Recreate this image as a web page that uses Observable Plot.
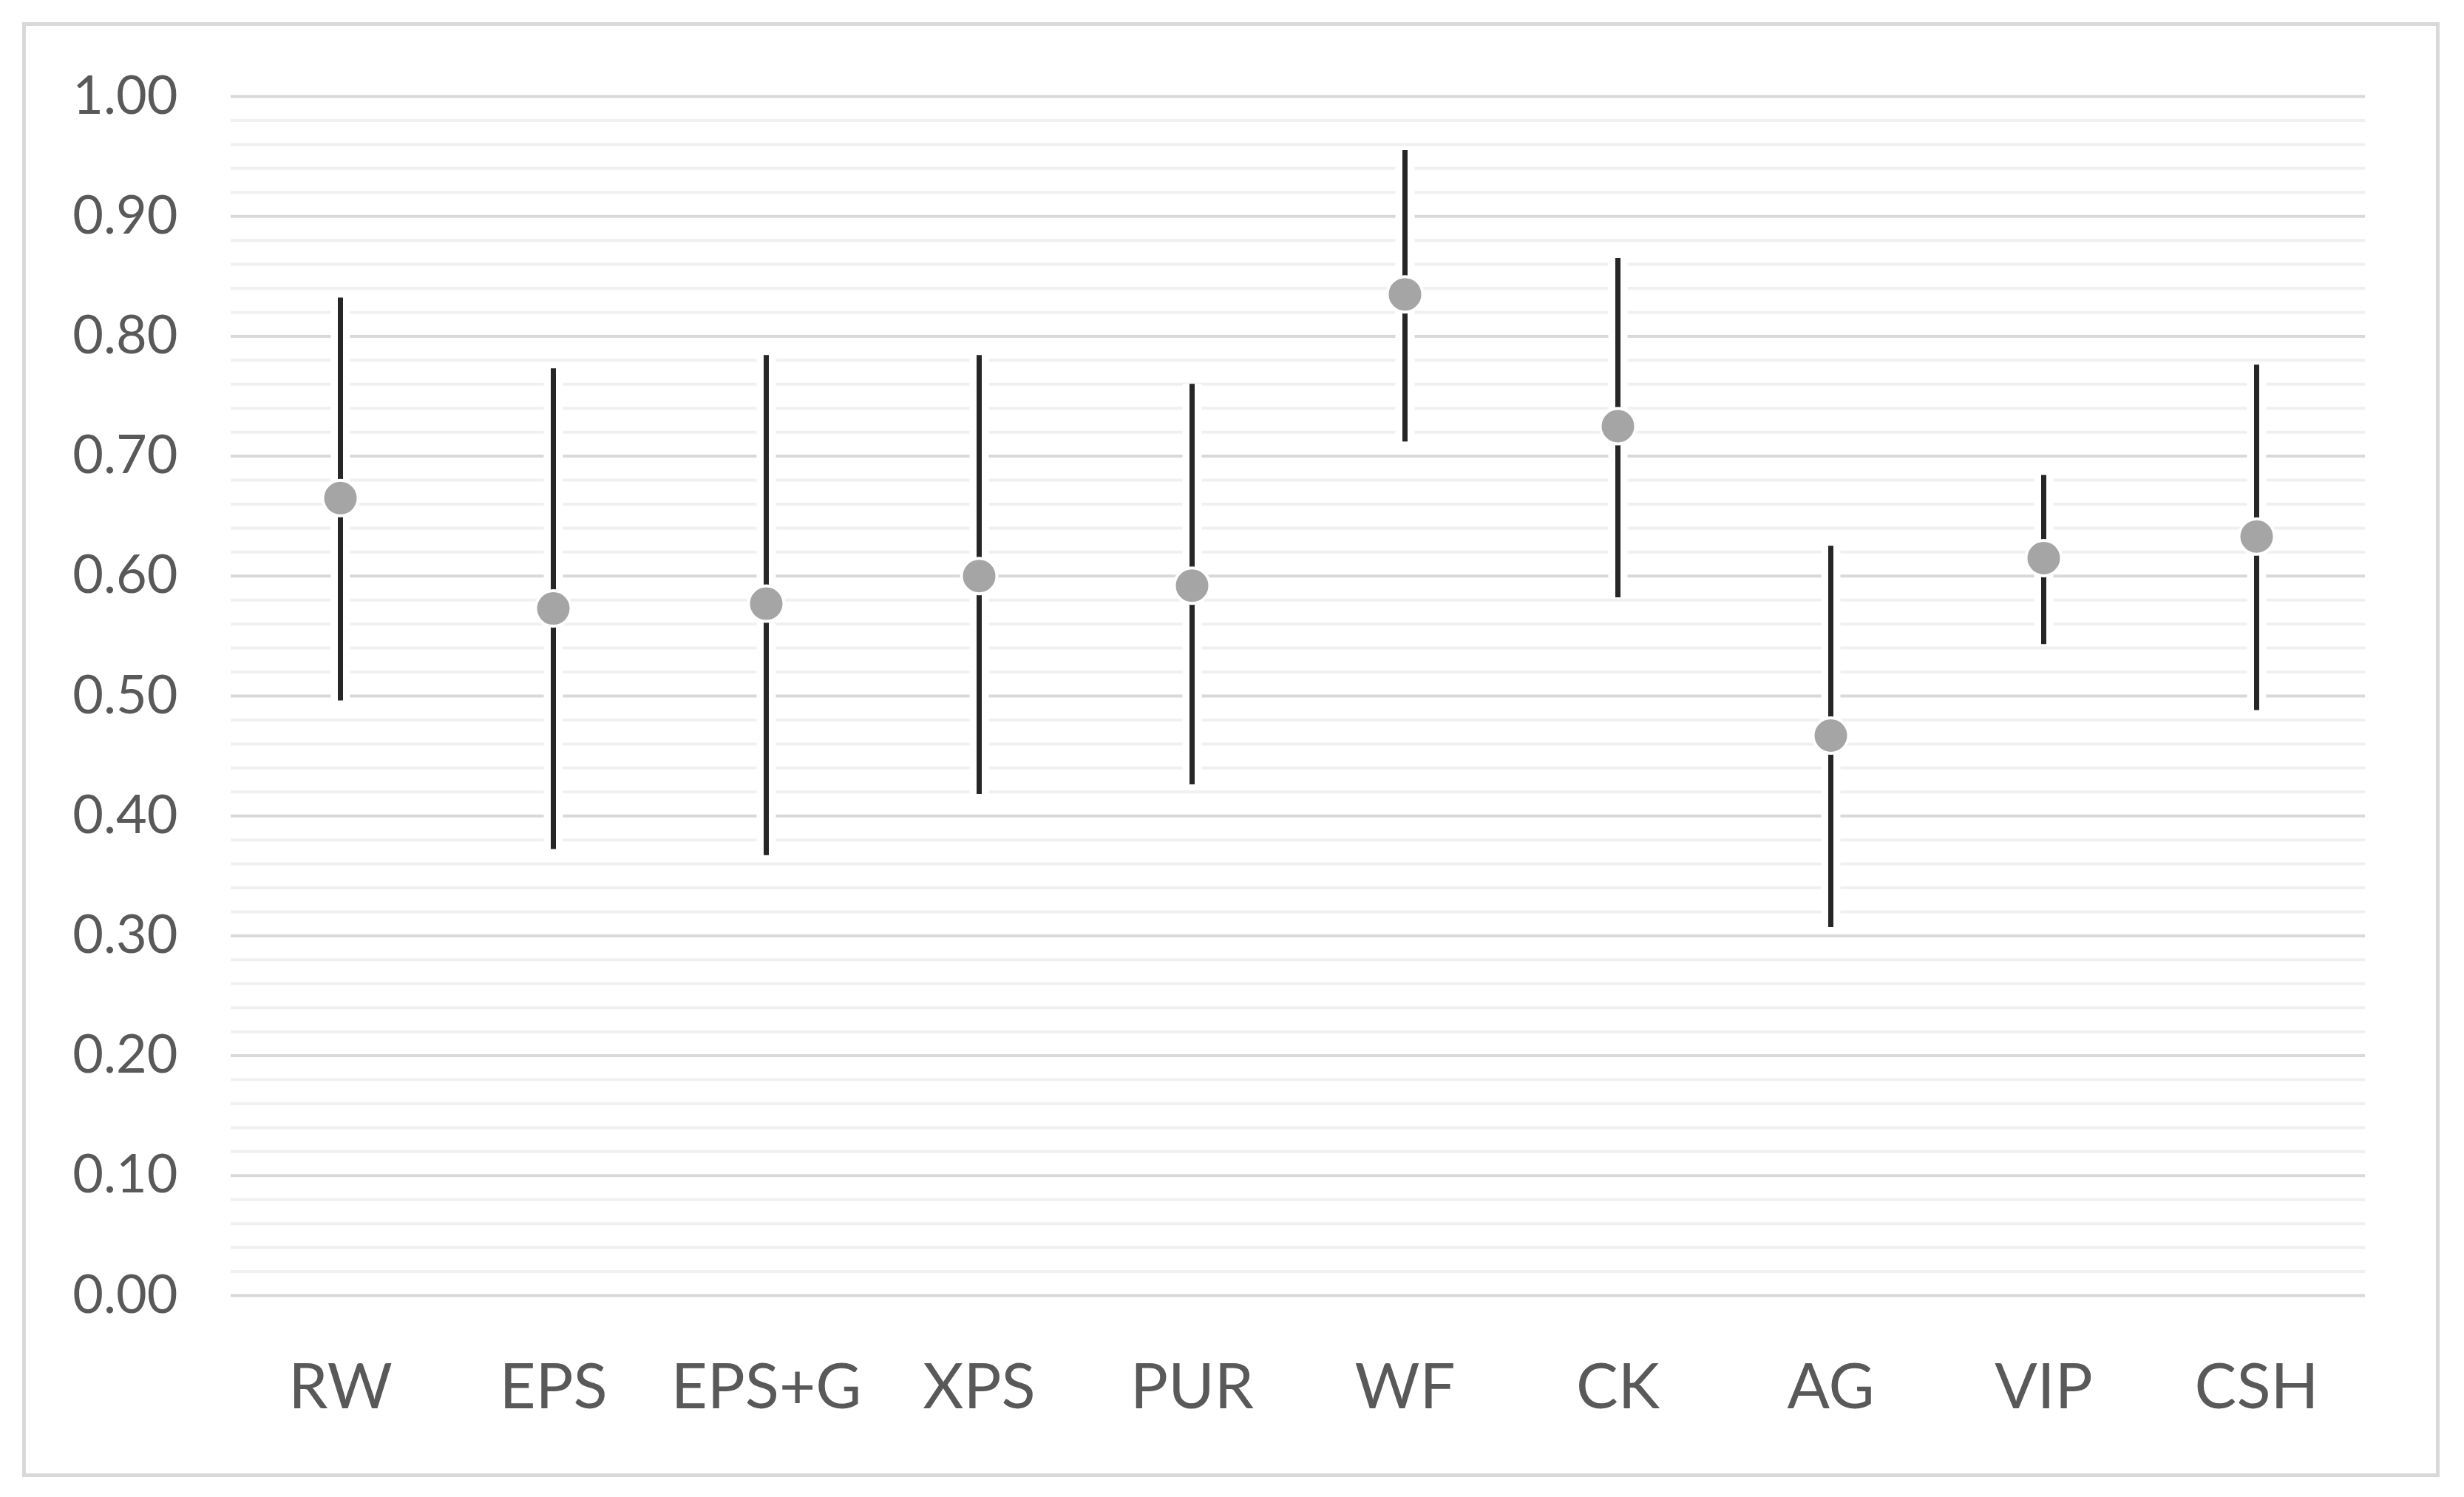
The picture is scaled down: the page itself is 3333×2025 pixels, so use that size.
<!DOCTYPE html>
<html>
<head>
<meta charset="utf-8">
<script src="https://cdn.jsdelivr.net/npm/d3@7"></script>
<script src="https://cdn.jsdelivr.net/npm/@observablehq/plot@0.6"></script>
<style>
  html, body { margin: 0; padding: 0; background: #fff; }
  #wrap { position: relative; width: 3333px; height: 2025px; overflow: hidden; }
  #frame { position: absolute; left: 30px; top: 30px; width: 3260px; height: 1958px; border: 5px solid #d9d9d9; box-sizing: content-box; }
  #chart { position: absolute; left: 0; top: 0; }
</style>
</head>
<body>
<div id="wrap"><div id="frame"></div><div id="chart"></div></div>
<script>
const categories = ["RW", "EPS", "EPS+G", "XPS", "PUR", "WF", "CK", "AG", "VIP", "CSH"];
const means = [0.665, 0.573, 0.577, 0.600, 0.592, 0.835, 0.725, 0.467, 0.615, 0.633];
const lows  = [0.496, 0.372, 0.367, 0.418, 0.426, 0.712, 0.582, 0.307, 0.543, 0.488];
const highs = [0.832, 0.773, 0.784, 0.784, 0.760, 0.955, 0.865, 0.625, 0.684, 0.776];
const majorTicks = d3.range(0, 1.0001, 0.1).map(v => +v.toFixed(2));
const minorTicks = d3.range(0, 1.0001, 0.02).map(v => +v.toFixed(2)).filter(v => Math.round(v * 100) % 10 !== 0);

const data = categories.map((c, i) => ({cat: c, mean: means[i], low: lows[i], high: highs[i]}));

const chart = Plot.plot({
  width: 3333,
  height: 2025,
  marginLeft: 312,
  marginRight: 134,
  marginTop: 130,
  marginBottom: 273,
  style: {fontFamily: "Lato, 'Noto Sans', sans-serif", color: "#595959", background: "transparent"},
  x: {type: "point", domain: categories, padding: 0.5, label: null},
  y: {domain: [0, 1], label: null},
  marks: [
    Plot.ruleY(minorTicks, {stroke: "#f0f0f0", strokeWidth: 4}),
    Plot.ruleY(majorTicks, {stroke: "#d9d9d9", strokeWidth: 4}),
    Plot.axisY({ticks: majorTicks, tickSize: 0, tickPadding: 72, tickFormat: d3.format(".2f"), fontSize: 72, fill: "#595959"}),
    Plot.axisX({tickSize: 0, tickPadding: 92, fontSize: 85, fill: "#595959"}),
    Plot.ruleX(data, {x: "cat", y1: "low", y2: "high", stroke: "#ffffff", strokeWidth: 26}),
    Plot.ruleX(data, {x: "cat", y1: "low", y2: "high", stroke: "#262626", strokeWidth: 7}),
    Plot.dot(data, {x: "cat", y: "mean", r: 24, fill: "#a5a5a5", stroke: "#ffffff", strokeWidth: 4})
  ]
});
document.getElementById("chart").appendChild(chart);
</script>
</body>
</html>
